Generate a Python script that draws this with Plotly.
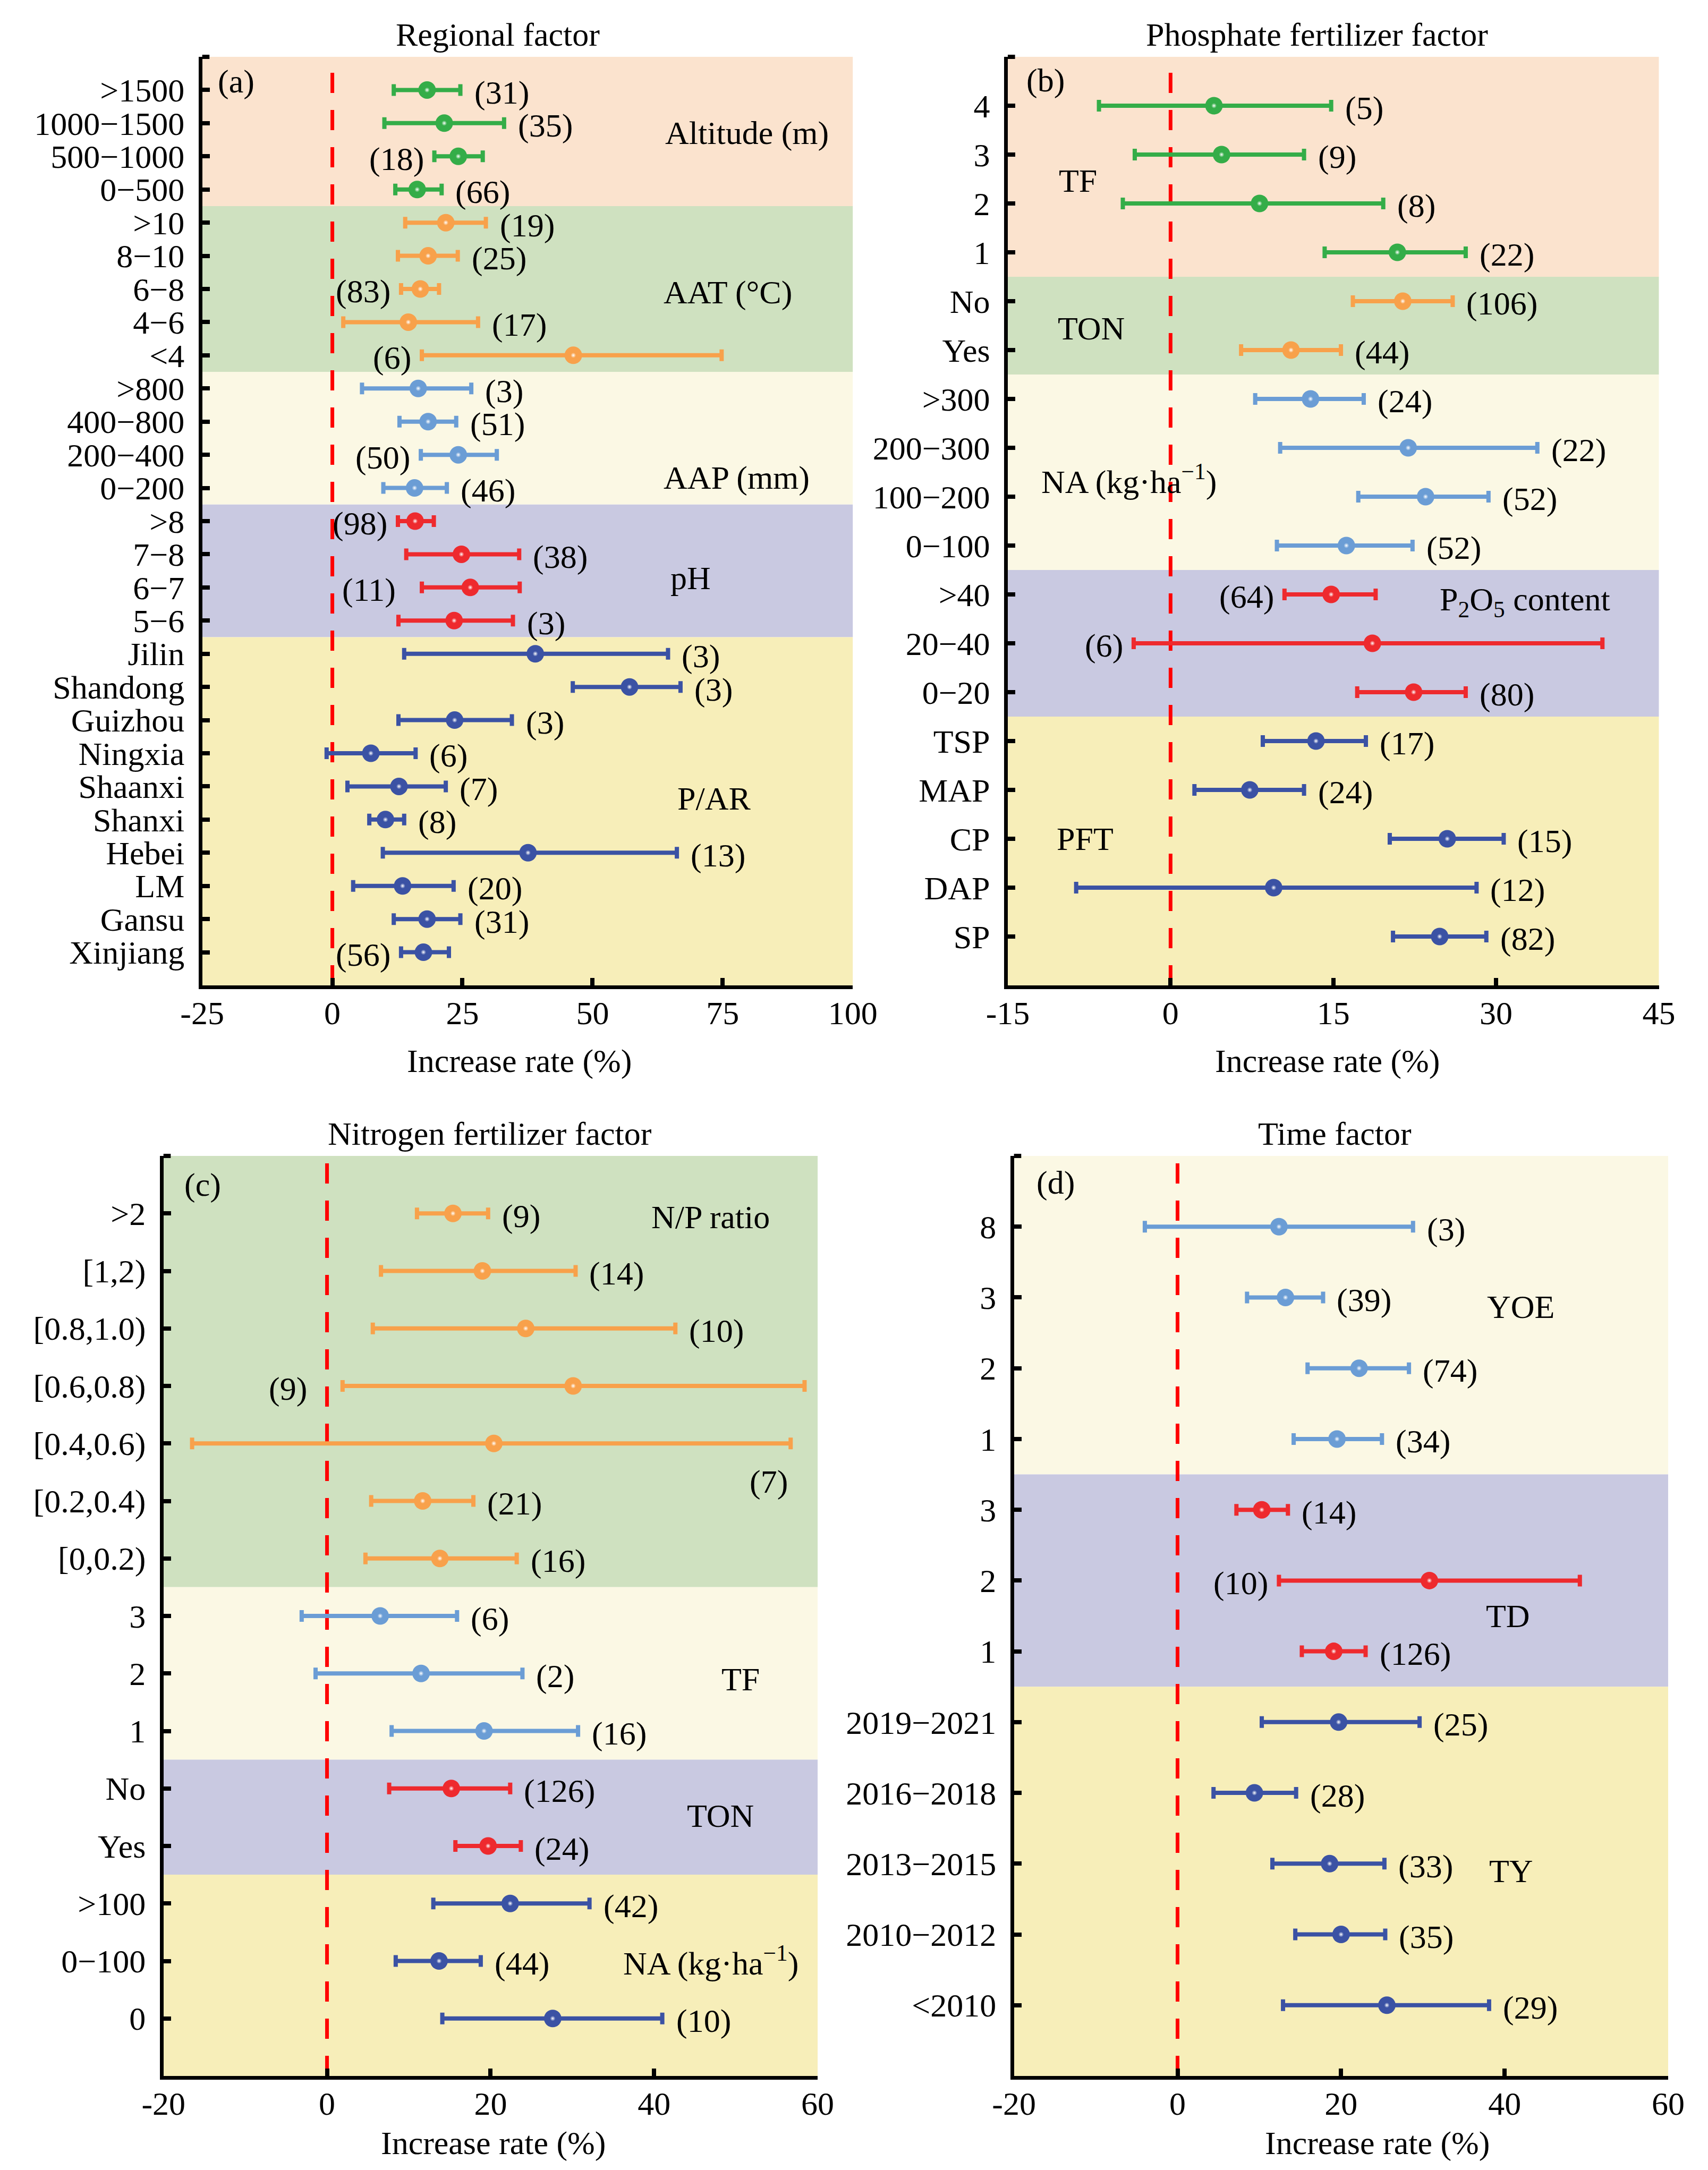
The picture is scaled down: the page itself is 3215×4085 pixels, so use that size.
import plotly.graph_objects as go

# ---------------- data ----------------
# (a) Regional factor
a_labels = [">1500", "1000−1500", "500−1000", "0−500",
            ">10", "8−10", "6−8", "4−6", "<4",
            ">800", "400−800", "200−400", "0−200",
            ">8", "7−8", "6−7", "5−6",
            "Jilin", "Shandong", "Guizhou", "Ningxia", "Shaanxi", "Shanxi",
            "Hebei", "LM", "Gansu", "Xinjiang"]
a_mean = [18.2, 21.5, 24.2, 16.3, 21.8, 18.4, 16.9, 14.6, 46.3, 16.5, 18.4,
          24.2, 15.8, 15.9, 24.8, 26.5, 23.4, 39.0, 57.1, 23.5, 7.4, 12.8,
          10.2, 37.6, 13.5, 18.2, 17.5]
a_low = [11.8, 10.0, 19.6, 12.1, 14.0, 12.6, 13.2, 2.1, 17.2, 5.7, 12.9,
         17.0, 9.8, 12.6, 14.2, 17.2, 12.7, 13.8, 46.2, 12.7, -1.1, 2.9,
         7.1, 9.7, 4.0, 11.8, 13.2]
a_high = [24.6, 33.0, 28.9, 21.0, 29.5, 24.1, 20.5, 28.0, 74.8, 26.7, 23.8,
          31.6, 22.0, 19.5, 35.9, 36.0, 34.7, 64.5, 66.9, 34.5, 16.0, 21.8,
          13.8, 66.2, 23.3, 24.6, 22.4]
a_n = [31, 35, 18, 66, 19, 25, 83, 17, 6, 3, 51, 50, 46, 98, 38, 11, 3,
       3, 3, 3, 6, 7, 8, 13, 20, 31, 56]
a_groups = ["Altitude (m)", "AAT (°C)", "AAP (mm)", "pH", "P/AR"]
a_group_rows = [4, 5, 4, 4, 10]

# (b) Phosphate fertilizer factor
b_labels = ["4", "3", "2", "1", "No", "Yes",
            ">300", "200−300", "100−200", "0−100",
            ">40", "20−40", "0−20",
            "TSP", "MAP", "CP", "DAP", "SP"]
b_mean = [4.0, 4.7, 8.2, 20.9, 21.4, 11.1, 12.9, 21.9, 23.5, 16.2, 14.8,
          18.6, 22.4, 13.4, 7.3, 25.5, 9.5, 24.8]
b_low = [-6.6, -3.3, -4.4, 14.2, 16.8, 6.5, 7.8, 10.1, 17.3, 9.8, 10.5,
         -3.4, 17.2, 8.5, 2.2, 20.2, -8.7, 20.5]
b_high = [14.8, 12.3, 19.6, 27.2, 26.0, 15.7, 17.8, 33.8, 29.3, 22.3, 18.9,
          39.8, 27.2, 18.0, 12.3, 30.7, 28.2, 29.1]
b_n = [5, 9, 8, 22, 106, 44, 24, 22, 52, 52, 64, 6, 80, 17, 24, 15, 12, 82]
b_groups = ["TF", "TON", "NA (kg·ha<sup>−1</sup>)",
            "P<sub>2</sub>O<sub>5</sub> content", "PFT"]
b_group_rows = [4, 2, 4, 3, 5]

# (c) Nitrogen fertilizer factor
c_labels = [">2", "[1,2)", "[0.8,1.0)", "[0.6,0.8)", "[0.4,0.6)",
            "[0.2,0.4)", "[0,0.2)", "3", "2", "1", "No", "Yes",
            ">100", "0−100", "0"]
c_mean = [15.4, 19.0, 24.3, 30.1, 20.4, 11.7, 13.8, 6.5, 11.5, 19.2, 15.2,
          19.7, 22.4, 13.7, 27.6]
c_low = [11.0, 6.6, 5.6, 1.9, -16.5, 5.4, 4.7, -3.1, -1.4, 7.9, 7.6, 15.7,
         13.0, 8.4, 14.1]
c_high = [19.7, 30.4, 42.6, 58.4, 56.7, 17.9, 23.2, 15.9, 23.9, 30.7, 22.4,
          23.7, 32.1, 18.8, 41.0]
c_n = [9, 14, 10, 9, 7, 21, 16, 6, 2, 16, 126, 24, 42, 44, 10]
c_groups = ["N/P ratio", "TF", "TON", "NA (kg·ha<sup>−1</sup>)"]
c_group_rows = [7, 3, 2, 3]

# (d) Time factor
d_labels = ["8", "3", "2", "1", "3", "2", "1",
            "2019−2021", "2016−2018", "2013−2015", "2010−2012", "<2010"]
d_mean = [12.4, 13.2, 22.2, 19.5, 10.3, 30.8, 19.1, 19.7, 9.4, 18.6, 20.0, 25.6]
d_low = [-4.0, 8.5, 15.9, 14.2, 7.2, 12.4, 15.2, 10.3, 4.4, 11.6, 14.4, 12.9]
d_high = [28.8, 17.8, 28.3, 25.0, 13.5, 49.2, 23.0, 29.6, 14.5, 25.3, 25.4, 38.1]
d_n = [3, 39, 74, 34, 14, 10, 126, 25, 28, 33, 35, 29]
d_groups = ["YOE", "TD", "TY"]
d_group_rows = [4, 3, 5]

# ---------------- style ----------------
FONT = "Liberation Serif, Times New Roman, serif"
FS = 62
BAND = ["#fbe3ce", "#cfe1c0", "#fbf8e4", "#c9c9e1", "#f7eeb9"]
DOT = ["#34ad48", "#f8a14b", "#6b9dd5", "#ee2a2e", "#3b52a4"]

panels = [
    dict(tag="(a)", title="Regional factor", labels=a_labels, mean=a_mean,
         low=a_low, high=a_high, n=a_n, groups=a_groups, rows=a_group_rows,
         level=0, xr=[-25, 100], dtick=25,
         dom_x=[341, 1600], dom_y=[99, 1847],
         side="RRLRRRLRLRRLRLRLRRRRRRRRRRL",
         group_pos=[(63.7, 1.3), (63.4, 6.1), (63.4, 11.7), (64.8, 14.72), (66.1, 21.36)],
         tag_pos=(-22.2, -0.25), title_x=0.454, xtitle_x=0.487, xtitle_shift=-142,
         special={15: dict(x=12.4)}),
    dict(tag="(b)", title="Phosphate fertilizer factor", labels=b_labels,
         mean=b_mean, low=b_low, high=b_high, n=b_n, groups=b_groups,
         rows=b_group_rows, level=0, xr=[-15, 45], dtick=15,
         dom_x=[1900, 3160], dom_y=[99, 1847],
         side="RRRRRRRRRRLLRRRRRR",
         group_pos=[(-10.4, 1.53), (-10.5, 4.55), (-12.0, 7.65), (24.7, 10.15), (-10.6, 15.0)],
         tag_pos=(-13.4, -0.52), title_x=0.475, xtitle_x=0.491, xtitle_shift=-142,
         special={}),
    dict(tag="(c)", title="Nitrogen fertilizer factor", labels=c_labels,
         mean=c_mean, low=c_low, high=c_high, n=c_n, groups=c_groups,
         rows=c_group_rows, level=1, xr=[-20, 60], dtick=20,
         dom_x=[266, 1532], dom_y=[2168, 3900],
         side="RRRLRRRRRRRRRRR",
         group_pos=[(39.5, 0.06), (48.1, 8.1), (43.9, 10.47), (36.1, 13.0)],
         tag_pos=(-17.6, -0.5), title_x=0.499, xtitle_x=0.504, xtitle_shift=-126,
         special={3: dict(x=-2.3), 4: dict(x=56.5, dy=0.62, anchor="right")}),
    dict(tag="(d)", title="Time factor", labels=d_labels, mean=d_mean,
         low=d_low, high=d_high, n=d_n, groups=d_groups, rows=d_group_rows,
         level=2, xr=[-20, 60], dtick=20,
         dom_x=[1912, 3178], dom_y=[2168, 3900],
         side="RRRRRLRRRRRR",
         group_pos=[(37.7, 1.13), (37.6, 5.5), (38.0, 9.1)],
         tag_pos=(-17.4, -0.62), title_x=0.490, xtitle_x=0.555, xtitle_shift=-126,
         special={}),
]

W, H = 3215, 4085
fig = go.Figure()
annotations = []
shapes = []
txt = dict(family=FONT, size=FS, color="black")

for k, p in enumerate(panels, start=1):
    xa = "x" if k == 1 else f"x{k}"
    ya = "y" if k == 1 else f"y{k}"
    nrow = len(p["labels"])
    rows = list(range(nrow))

    # background bands, markers with error bars, group names
    start = 0
    for g, (name, size) in enumerate(zip(p["groups"], p["rows"])):
        lev = p["level"] + g
        ys = rows[start:start + size]
        xs = p["mean"][start:start + size]
        plus = [h - m for h, m in zip(p["high"][start:start + size], xs)]
        minus = [m - lo for m, lo in zip(xs, p["low"][start:start + size])]
        y0 = -1 if g == 0 else start - 0.5
        y1 = nrow if g == len(p["groups"]) - 1 else start + size - 0.5
        shapes.append(dict(type="rect", xref=f"{xa} domain", yref=ya,
                           x0=0, x1=1, y0=y0, y1=y1, fillcolor=BAND[lev],
                           line=dict(width=0), layer="below"))
        fig.add_trace(go.Scatter(
            x=xs, y=ys, mode="markers", xaxis=xa, yaxis=ya,
            marker=dict(size=33, color=DOT[lev], line=dict(width=0)),
            error_x=dict(type="data", symmetric=False, array=plus,
                         arrayminus=minus, color=DOT[lev], thickness=8, width=11),
            showlegend=False, hoverinfo="skip"))
        # glossy highlight
        fig.add_trace(go.Scatter(
            x=xs, y=ys, mode="markers", xaxis=xa, yaxis=ya,
            marker=dict(size=10, color=DOT[lev], line=dict(width=0),
                        gradient=dict(type="radial", color="white")),
            showlegend=False, hoverinfo="skip"))
        gx, gy = p["group_pos"][g]
        annotations.append(dict(text=name, x=gx, y=gy, xref=xa, yref=ya,
                                xanchor="left", yanchor="middle",
                                showarrow=False, font=txt))
        start += size

    # sample sizes
    for i in rows:
        sp = p["special"].get(i, {})
        if p["side"][i] == "R":
            x, anchor, shift = p["high"][i], "left", 24
        else:
            x, anchor, shift = p["low"][i], "right", -18
        if "x" in sp:
            x, shift = sp["x"], 0
            anchor = sp.get("anchor", "right")
        annotations.append(dict(text=f"({p['n'][i]})", x=x, y=i + sp.get("dy", 0),
                                xref=xa, yref=ya, xanchor=anchor,
                                yanchor="middle", xshift=shift, yshift=-5,
                                showarrow=False, font=txt))

    # zero line
    shapes.append(dict(type="line", xref=xa, yref=f"{ya} domain", x0=0, x1=0,
                       y0=0, y1=1, line=dict(color="#ff0000", width=7,
                                             dash="38px,32px"), layer="below"))
    # small cap at the top of the y axis
    shapes.append(dict(type="line", xref=f"{xa} domain", yref=f"{ya} domain",
                       x0=0, x1=14 / (p["dom_x"][1] - p["dom_x"][0]),
                       y0=1, y1=1, line=dict(color="black", width=8)))

    # panel tag, title, x title
    tx, ty = p["tag_pos"]
    annotations.append(dict(text=p["tag"], x=tx, y=ty, xref=xa, yref=ya,
                            xanchor="left", yanchor="middle", showarrow=False,
                            font=txt))
    annotations.append(dict(text=p["title"], x=p["title_x"], y=1,
                            xref=f"{xa} domain", yref=f"{ya} domain",
                            xanchor="center", yanchor="middle", yshift=42,
                            showarrow=False, font=txt))
    annotations.append(dict(text="Increase rate (%)", x=p["xtitle_x"], y=0,
                            xref=f"{xa} domain", yref=f"{ya} domain",
                            xanchor="center", yanchor="middle",
                            yshift=p["xtitle_shift"], showarrow=False, font=txt))

    ticks = list(range(p["xr"][0], p["xr"][1] + 1, p["dtick"]))
    axis_common = dict(showline=True, linewidth=7, linecolor="black",
                       ticks="inside", ticklen=14, tickwidth=8,
                       tickcolor="black", showgrid=False, zeroline=False,
                       tickfont=txt)
    fig.update_layout({
        ("xaxis" if k == 1 else f"xaxis{k}"): dict(
            domain=[p["dom_x"][0] / W, p["dom_x"][1] / W], anchor=ya,
            range=p["xr"], tickvals=ticks, ticktext=[str(t) for t in ticks],
            ticklabelstandoff=-8, **axis_common),
        ("yaxis" if k == 1 else f"yaxis{k}"): dict(
            domain=[1 - p["dom_y"][1] / H, 1 - p["dom_y"][0] / H], anchor=xa,
            range=[nrow, -1], tickvals=rows,
            ticktext=p["labels"], ticklabelstandoff=14, **axis_common),
    })

fig.update_layout(
    width=W, height=H, autosize=False,
    margin=dict(l=0, r=0, t=0, b=0),
    paper_bgcolor="white", plot_bgcolor="white",
    font=txt, showlegend=False,
    shapes=shapes, annotations=annotations,
)

fig.write_html("out.html")
